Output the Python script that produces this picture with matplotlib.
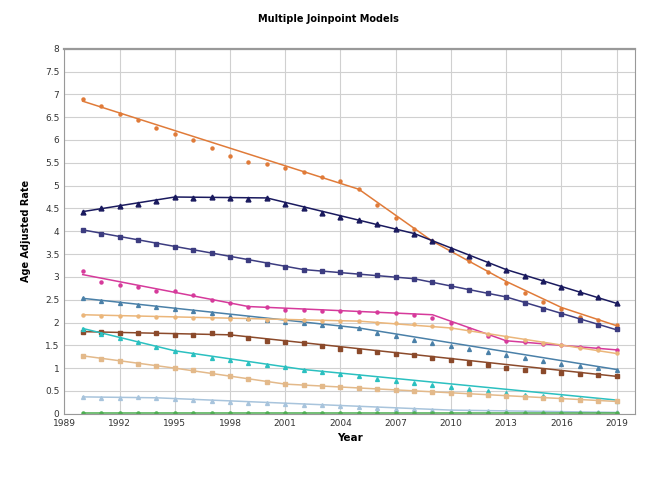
import matplotlib
matplotlib.use("Agg")
import matplotlib.pyplot as plt

YEARS = list(range(1990, 2020))

# observed rates per series (1990..2019)
OBS_ORANGE = [6.9, 6.75, 6.57, 6.43, 6.27, 6.12, 6.0, 5.83, 5.65, 5.52, 5.48, 5.38, 5.29, 5.18, 5.1,
              4.92, 4.58, 4.3, 4.05, 3.78, 3.58, 3.35, 3.1, 2.87, 2.65, 2.45, 2.3, 2.12, 2.05, 1.95]
OBS_NAVY = [4.43, 4.5, 4.56, 4.6, 4.67, 4.75, 4.73, 4.75, 4.72, 4.7, 4.72, 4.6, 4.5, 4.4, 4.32,
            4.25, 4.15, 4.05, 3.95, 3.78, 3.62, 3.45, 3.3, 3.16, 3.02, 2.9, 2.78, 2.66, 2.55, 2.42]
OBS_SLATE = [4.03, 3.95, 3.87, 3.8, 3.72, 3.65, 3.58, 3.52, 3.43, 3.36, 3.29, 3.22, 3.16, 3.12, 3.1,
             3.07, 3.04, 3.0, 2.96, 2.88, 2.8, 2.72, 2.65, 2.56, 2.43, 2.3, 2.18, 2.06, 1.95, 1.85]
OBS_MAGENTA = [3.13, 2.88, 2.83, 2.77, 2.7, 2.68, 2.6, 2.5, 2.42, 2.34, 2.33, 2.28, 2.27, 2.26, 2.25,
               2.24, 2.24, 2.2, 2.17, 2.1, 2.0, 1.85, 1.7, 1.6, 1.57, 1.52, 1.5, 1.47, 1.45, 1.4]
OBS_STEEL = [2.53, 2.48, 2.43, 2.39, 2.34, 2.3, 2.25, 2.2, 2.15, 2.1, 2.06, 2.02, 1.98, 1.95, 1.92,
             1.88, 1.78, 1.7, 1.62, 1.55, 1.48, 1.42, 1.35, 1.28, 1.22, 1.15, 1.1, 1.05, 1.0, 0.97]
OBS_LTAN = [2.17, 2.15, 2.15, 2.14, 2.13, 2.11, 2.1, 2.09, 2.08, 2.07, 2.06, 2.05, 2.05, 2.04, 2.04,
            2.03, 2.0, 1.98, 1.96, 1.92, 1.88, 1.82, 1.75, 1.68, 1.62, 1.55, 1.5, 1.45, 1.4, 1.33]
OBS_BROWN = [1.8, 1.8, 1.78, 1.77, 1.76, 1.73, 1.73, 1.77, 1.74, 1.65, 1.6, 1.58, 1.55, 1.48, 1.42,
             1.38, 1.35, 1.32, 1.28, 1.22, 1.17, 1.12, 1.07, 1.01, 0.96, 0.93, 0.9, 0.88, 0.85, 0.82]
OBS_TURQ = [1.85, 1.75, 1.65, 1.57, 1.47, 1.38, 1.3, 1.22, 1.17, 1.12, 1.07, 1.02, 0.97, 0.92, 0.87,
            0.82, 0.77, 0.72, 0.67, 0.62, 0.58, 0.54, 0.5, 0.45, 0.42, 0.38, 0.36, 0.33, 0.31, 0.29]
OBS_TAN = [1.27, 1.2, 1.15, 1.1, 1.05, 1.0, 0.95, 0.89, 0.83, 0.76, 0.7, 0.65, 0.63, 0.6, 0.58,
           0.56, 0.54, 0.52, 0.5, 0.48, 0.46, 0.44, 0.42, 0.4, 0.37, 0.35, 0.33, 0.31, 0.29, 0.27]
OBS_LBLUE = [0.37, 0.35, 0.35, 0.36, 0.35, 0.32, 0.3, 0.27, 0.25, 0.24, 0.23, 0.22, 0.2, 0.19, 0.17,
             0.15, 0.12, 0.11, 0.1, 0.08, 0.07, 0.06, 0.05, 0.05, 0.04, 0.04, 0.03, 0.03, 0.03, 0.03]
OBS_GREEN = [0.01] * 30

# joinpoint fitted vertices (year, rate)
FIT_ORANGE = ([1990, 2005, 2009, 2013, 2016, 2019], [6.85, 4.92, 3.78, 2.9, 2.33, 1.93])
FIT_NAVY = ([1990, 1995, 2000, 2008, 2013, 2019], [4.43, 4.75, 4.73, 3.95, 3.16, 2.42])
FIT_SLATE = ([1990, 2002, 2008, 2013, 2019], [4.03, 3.16, 2.96, 2.56, 1.84])
FIT_MAGENTA = ([1990, 1999, 2009, 2013, 2019], [3.05, 2.35, 2.17, 1.6, 1.4])
FIT_STEEL = ([1990, 2005, 2019], [2.53, 1.88, 0.97])
FIT_LTAN = ([1990, 2005, 2010, 2019], [2.17, 2.03, 1.88, 1.32])
FIT_BROWN = ([1990, 1998, 2019], [1.8, 1.73, 0.82])
FIT_TURQ = ([1990, 1995, 2002, 2019], [1.87, 1.38, 0.97, 0.3])
FIT_TAN = ([1990, 1995, 2001, 2019], [1.27, 1.0, 0.65, 0.27])
FIT_LBLUE = ([1990, 1994, 2010, 2019], [0.37, 0.35, 0.08, 0.03])
FIT_GREEN = ([1990, 2019], [0.01, 0.01])

SERIES = [
    (OBS_ORANGE, FIT_ORANGE, "#E07B39", "o", 2.2),
    (OBS_NAVY, FIT_NAVY, "#1A1A5E", "^", 3.5),
    (OBS_SLATE, FIT_SLATE, "#3C3C80", "s", 3.5),
    (OBS_MAGENTA, FIT_MAGENTA, "#D63A9B", "o", 2.2),
    (OBS_STEEL, FIT_STEEL, "#4A80A8", "^", 2.8),
    (OBS_LTAN, FIT_LTAN, "#EBB67A", "o", 2.2),
    (OBS_BROWN, FIT_BROWN, "#8B4A2B", "s", 3.5),
    (OBS_TURQ, FIT_TURQ, "#2BC0C0", "^", 2.8),
    (OBS_TAN, FIT_TAN, "#E3B98A", "s", 3.5),
    (OBS_LBLUE, FIT_LBLUE, "#A8C4DC", "^", 2.8),
    (OBS_GREEN, FIT_GREEN, "#4CAF50", "o", 2.2),
]

fig = plt.figure(figsize=(6.56, 4.92), dpi=100)
ax = fig.add_axes([0.098, 0.159, 0.870, 0.742])
for obs, (fx, fy), col, mk, ms in SERIES:
    ax.plot(YEARS, obs, linestyle="none", marker=mk, markersize=ms, color=col)
    ax.plot(fx, fy, color=col, linewidth=1.1)

ax.set_xlim(1989, 2020)
ax.set_ylim(0, 8)
ax.set_xticks(range(1989, 2020, 3))
ax.set_yticks([i * 0.5 for i in range(17)])
ax.set_yticklabels([f"{i * 0.5:g}" for i in range(17)])
ax.tick_params(labelsize=6.5, length=0, colors="#333333")
ax.grid(True, color="#d0d0d0", linewidth=0.8)
for s in ax.spines.values():
    s.set_color("#999999")
ax.spines["top"].set_linewidth(1.6)
ax.set_xlabel("Year", fontsize=7.5, fontweight="bold")
ax.set_ylabel("Age Adjusted Rate", fontsize=7, fontweight="bold", labelpad=10)
fig.text(0.5, 0.955, "Multiple Joinpoint Models", ha="center", fontsize=7, fontweight="bold")
fig.savefig("out.png", dpi=100)
